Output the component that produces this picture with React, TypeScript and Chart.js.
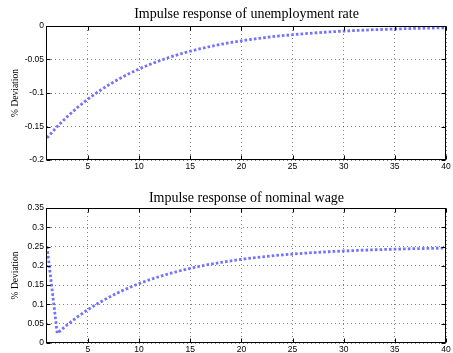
import React, { useEffect, useRef } from "react";
import { Chart, registerables } from "chart.js";

Chart.register(...registerables);

const periods = [
  1, 2, 3, 4, 5, 6, 7, 8, 9, 10, 11, 12, 13, 14, 15, 16, 17, 18, 19, 20,
  21, 22, 23, 24, 25, 26, 27, 28, 29, 30, 31, 32, 33, 34, 35, 36, 37, 38, 39, 40,
];

const unemploymentRate = [
  -0.167, -0.1501, -0.135, -0.1213, -0.1091, -0.0981, -0.0882, -0.0793, -0.0713, -0.0641,
  -0.0576, -0.0518, -0.0465, -0.0418, -0.0376, -0.0338, -0.0304, -0.0273, -0.0246, -0.0221,
  -0.0199, -0.0179, -0.016, -0.0144, -0.013, -0.0117, -0.0105, -0.0094, -0.0085, -0.0076,
  -0.0068, -0.0062, -0.0055, -0.005, -0.0045, -0.004, -0.0036, -0.0033, -0.0029, -0.0026,
];

const nominalWage = [
  0.25, 0.025, 0.0477, 0.0682, 0.0865, 0.103, 0.1179, 0.1312, 0.1432, 0.154,
  0.1637, 0.1724, 0.1802, 0.1873, 0.1936, 0.1993, 0.2044, 0.209, 0.2131, 0.2169,
  0.2202, 0.2232, 0.2259, 0.2284, 0.2305, 0.2325, 0.2343, 0.2359, 0.2373, 0.2386,
  0.2397, 0.2408, 0.2417, 0.2425, 0.2433, 0.244, 0.2446, 0.2451, 0.2456, 0.2461,
];

const xTicks = [5, 10, 15, 20, 25, 30, 35, 40];
const unemploymentTicks = [-0.2, -0.15, -0.1, -0.05, 0];
const wageTicks = [0, 0.05, 0.1, 0.15, 0.2, 0.25, 0.3, 0.35];

const unemploymentTitle = "Impulse response of unemployment rate";
const wageTitle = "Impulse response of nominal wage";
const yAxisLabel = "% Deviation";

const LINE_COLOR = "#7272ff";
const GRID_COLOR = "rgba(0,0,0,0.5)";
const SANS = '"Liberation Sans", Arial, Helvetica, sans-serif';
const SERIF = '"Liberation Serif", "Times New Roman", Times, serif';

const framePlugin = {
  id: "matlabFrame",
  afterDatasetsDraw(chart: any, _args: any, opts: any) {
    const ctx = chart.ctx;
    const { left, right, top, bottom } = chart.chartArea;
    const xs = chart.scales.x;
    const ys = chart.scales.y;
    ctx.save();
    ctx.strokeStyle = "#000";
    ctx.lineWidth = 1;
    ctx.setLineDash([]);
    const L = Math.round(left) - 0.5;
    const R = Math.round(right) - 0.5;
    const T = Math.round(top) + 0.5;
    const B = Math.round(bottom) - 0.5;
    ctx.strokeRect(L, T, R - L, B - T);
    const tl = 4;
    ctx.beginPath();
    for (const v of xTicks) {
      const px = Math.round(xs.getPixelForValue(v)) + 0.5;
      ctx.moveTo(px, B);
      ctx.lineTo(px, B - tl);
      ctx.moveTo(px, T);
      ctx.lineTo(px, T + tl);
    }
    for (const t of ys.ticks) {
      const py = Math.round(ys.getPixelForValue(t.value)) + 0.5;
      ctx.moveTo(L, py);
      ctx.lineTo(L + tl, py);
      ctx.moveTo(R, py);
      ctx.lineTo(R - tl, py);
    }
    ctx.stroke();

    // title
    ctx.fillStyle = "#000";
    ctx.font = `14px ${SERIF}`;
    ctx.textAlign = "center";
    ctx.textBaseline = "alphabetic";
    ctx.fillText(opts.title, (left + right) / 2, opts.titleY);

    // y label
    ctx.save();
    ctx.translate(opts.labelX, (top + bottom) / 2);
    ctx.rotate(-Math.PI / 2);
    ctx.font = `9.5px ${SERIF}`;
    ctx.textAlign = "center";
    ctx.textBaseline = "middle";
    ctx.fillText(yAxisLabel, 0, 0);
    ctx.restore();
    ctx.restore();
  },
};

function fmt(v: number) {
  const r = Math.round(v * 100) / 100;
  return r === 0 ? "0" : String(r);
}

type PanelProps = {
  values: number[];
  yTicks: number[];
  title: string;
  top: number;
  height: number;
  axisHeight: number;
  titleY: number;
};

function Panel({ values, yTicks, title, top, height, axisHeight, titleY }: PanelProps) {
  const ref = useRef<HTMLCanvasElement | null>(null);
  useEffect(() => {
    if (!ref.current) return;
    const chart = new Chart(ref.current, {
      type: "line",
      data: {
        datasets: [
          {
            data: periods.map((p, i) => ({ x: p, y: values[i] })),
            borderColor: LINE_COLOR,
            borderWidth: 2.8,
            borderDash: [2.6, 2.1],
            borderCapStyle: "butt",
            pointRadius: 0,
            tension: 0,
            fill: false,
          },
        ],
      },
      options: {
        responsive: false,
        animation: false,
        devicePixelRatio: 1,
        layout: { padding: { top: 26, right: 7, left: 0, bottom: 0 } },
        plugins: {
          legend: { display: false },
          tooltip: { enabled: false },
          title: { display: false },
          matlabFrame: { title, titleY, labelX: 15 },
        } as any,
        scales: {
          x: {
            type: "linear",
            min: 1,
            max: 40,
            afterBuildTicks: (s: any) => {
              s.ticks = xTicks.map((v) => ({ value: v }));
            },
            afterFit: (s: any) => {
              s.height = axisHeight;
            },
            grid: { color: GRID_COLOR, lineWidth: 1, drawTicks: false },
            border: { display: false, dash: [1, 3] },
            ticks: {
              font: { family: SANS, size: 8.5 },
              color: "#000",
              padding: 2,
              maxRotation: 0,
              autoSkip: false,
              callback: (v: any) => String(v),
            },
          },
          y: {
            type: "linear",
            min: yTicks[0],
            max: yTicks[yTicks.length - 1],
            afterBuildTicks: (s: any) => {
              s.ticks = yTicks.map((v) => ({ value: v }));
            },
            afterFit: (s: any) => {
              s.width = 47;
            },
            grid: { color: GRID_COLOR, lineWidth: 1, drawTicks: false },
            border: { display: false, dash: [1, 3] },
            ticks: {
              font: { family: SANS, size: 8.5 },
              color: "#000",
              padding: 3,
              autoSkip: false,
              callback: (v: any) => fmt(Number(v)),
            },
          },
        },
      },
      plugins: [framePlugin as any],
    });
    return () => chart.destroy();
  }, []);
  return (
    <canvas
      ref={ref}
      width={453}
      height={height}
      style={{ position: "absolute", left: 0, top, width: 453, height }}
    />
  );
}

export default function App() {
  return (
    <div
      style={{
        position: "absolute",
        left: 0,
        top: 0,
        width: 453,
        height: 353,
        background: "#fff",
        overflow: "hidden",
      }}
    >
      <Panel
        values={unemploymentRate}
        yTicks={unemploymentTicks}
        title={unemploymentTitle}
        top={0}
        height={176}
        axisHeight={16}
        titleY={18}
      />
      <Panel
        values={nominalWage}
        yTicks={wageTicks}
        title={wageTitle}
        top={182}
        height={171}
        axisHeight={10}
        titleY={20}
      />
    </div>
  );
}
